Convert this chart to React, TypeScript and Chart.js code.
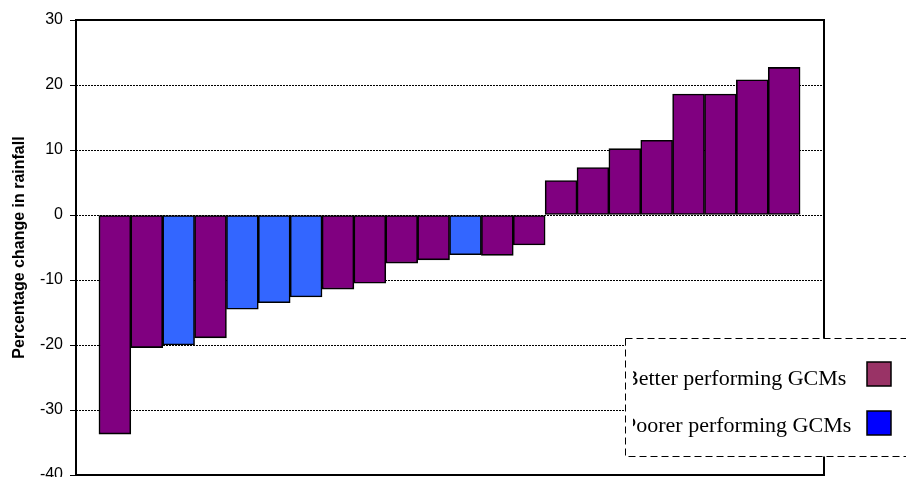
import React, { useEffect, useRef } from "react";
import { Chart, registerables } from "chart.js";

Chart.register(...registerables);

// Percentage change in rainfall per GCM, sorted ascending
const changes = [
  -33.7, -20.4, -20.0, -18.9, -14.5, -13.5, -12.6, -11.4, -10.5, -7.4, -6.9,
  -6.1, -6.2, -4.6, 5.3, 7.3, 10.2, 11.5, 18.6, 18.6, 20.8, 22.7,
];
// "B" = better performing GCM, "P" = poorer performing GCM
const groups = [
  "B", "B", "P", "B", "P", "P", "P", "B", "B", "B", "B",
  "P", "B", "B", "B", "B", "B", "B", "B", "B", "B", "B",
];
const seriesLabels = ["Better performing GCMs", "Poorer performing GCMs"];
const barColors = ["#800080", "#3366FF"];
const legendColors = ["#993366", "#0000FF"];
const yTicks = { min: -40, max: 30, step: 10 };
const yTitle = "Percentage change in rainfall";

const framePlugin = {
  id: "frame",
  afterDatasetsDraw(chart: any) {
    const { ctx, chartArea: a } = chart;
    ctx.save();
    ctx.lineWidth = 2;
    ctx.strokeStyle = "#000";
    ctx.setLineDash([]);
    ctx.strokeRect(a.left, a.top, a.right - a.left, a.bottom - a.top);
    ctx.restore();
  },
};

const boxLegendPlugin = {
  id: "boxLegend",
  afterDraw(chart: any) {
    const { ctx } = chart;
    const bx = 625.5, by = 338.5, bw = 320, bh = 118;
    ctx.save();
    ctx.fillStyle = "#fff";
    ctx.fillRect(bx, by, bw, bh);
    ctx.setLineDash([7, 4]);
    ctx.lineWidth = 1;
    ctx.strokeStyle = "#000";
    ctx.strokeRect(bx, by, bw, bh);
    ctx.setLineDash([]);

    const baselines = [385, 432];
    const swatchTops = [362, 411];
    chart.data.datasets.forEach((ds: any, i: number) => {
      ctx.save();
      ctx.beginPath();
      ctx.rect(633, 340, 226, 115);
      ctx.clip();
      ctx.fillStyle = "#000";
      ctx.font = '22px "Liberation Serif", "Times New Roman", serif';
      ctx.textAlign = "left";
      ctx.textBaseline = "alphabetic";
      ctx.fillText(ds.label, 624, baselines[i]);
      ctx.restore();

      ctx.fillStyle = legendColors[i];
      ctx.fillRect(867, swatchTops[i], 24, 24);
      ctx.lineWidth = 1.5;
      ctx.strokeStyle = "#000";
      ctx.strokeRect(867, swatchTops[i], 24, 24);
    });
    ctx.restore();
  },
};

export default function App() {
  const ref = useRef<HTMLCanvasElement | null>(null);

  useEffect(() => {
    if (!ref.current) return;
    const datasets = ["B", "P"].map((g, k) => ({
      label: seriesLabels[k],
      data: changes.map((v, i) => ({ x: i, y: groups[i] === g ? v : null })),
      backgroundColor: barColors[k],
      borderColor: "#000",
      borderWidth: 1.6,
      borderSkipped: false as any,
      grouped: false,
      categoryPercentage: 1,
      barPercentage: 1,
    }));

    const chart = new Chart(ref.current, {
      type: "bar",
      data: { datasets },
      options: {
        animation: false,
        responsive: false,
        devicePixelRatio: 1,
        layout: { padding: { left: 0, right: 82, top: 20, bottom: 25 } },
        plugins: { legend: { display: false }, tooltip: { enabled: false } },
        scales: {
          x: {
            type: "linear",
            display: false,
            offset: false,
            bounds: "ticks",
            min: -1.22,
            max: 22.25,
          },
          y: {
            type: "linear",
            min: yTicks.min,
            max: yTicks.max,
            ticks: {
              stepSize: yTicks.step,
              color: "#000",
              padding: 7,
              font: { family: "'Liberation Sans', Arial, sans-serif", size: 16 },
            },
            grid: {
              color: "#000",
              lineWidth: 1,
              tickLength: 6,
              tickColor: "#000",
              tickBorderDash: [],
            },
            border: { display: false, dash: [2, 1] },
            title: {
              display: true,
              text: yTitle,
              color: "#000",
              padding: { top: 10, bottom: 0 },
              font: {
                family: "'Liberation Sans', Arial, sans-serif",
                size: 16,
                weight: "bold",
              },
            },
            afterFit: (s: any) => {
              s.width = 76;
            },
          },
        },
      },
      plugins: [framePlugin, boxLegendPlugin],
    } as any);
    return () => chart.destroy();
  }, []);

  return (
    <div
      style={{
        position: "fixed",
        left: 0,
        top: 0,
        width: 906,
        height: 477,
        overflow: "hidden",
        background: "#fff",
      }}
    >
      <canvas ref={ref} width={906} height={500} style={{ display: "block" }} />
    </div>
  );
}
